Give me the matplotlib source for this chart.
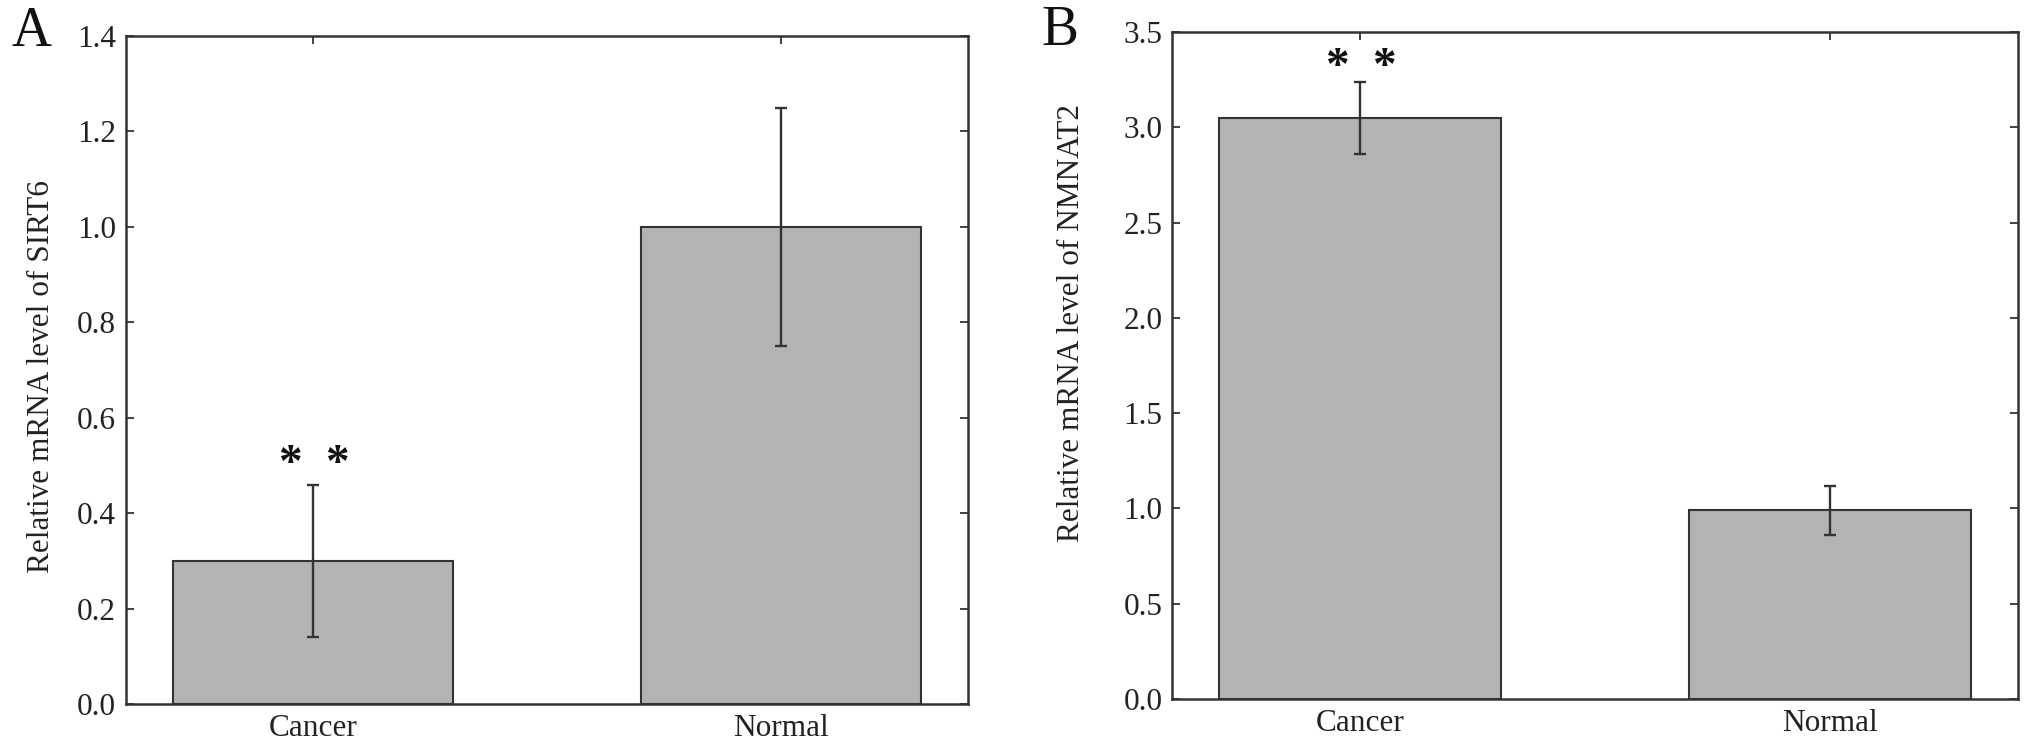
import numpy as np
import matplotlib
matplotlib.use("Agg")
import matplotlib.pyplot as plt

plt.rcParams['font.family'] = ['Liberation Serif', 'DejaVu Serif']

# data
groups = ['Cancer', 'Normal']
sirt6_mean = [0.30, 1.00]
sirt6_err = [0.16, 0.25]
nmnat2_mean = [3.05, 0.99]
nmnat2_err = [0.19, 0.13]

panels = [
    dict(letter='A', mean=sirt6_mean, err=sirt6_err, ylabel='Relative mRNA level of SIRT6',
         ylim=(0, 1.4), yticks=np.arange(0, 1.41, 0.2), fmt='{:.1f}',
         rect=[0.0620, 0.0588, 0.4146, 0.8930], lab=(-0.100, 0.49), star_off=14,
         letter_xy=(32, 32)),
    dict(letter='B', mean=nmnat2_mean, err=nmnat2_err, ylabel='Relative mRNA level of NMNAT2',
         ylim=(0, 3.5), yticks=np.arange(0, 3.51, 0.5), fmt='{:.1f}',
         rect=[0.5771, 0.0655, 0.4165, 0.8917], lab=(-0.119, 0.564), star_off=10,
         letter_xy=(1060, 31)),
]

W, H = 2031, 748
fig = plt.figure(figsize=(W / 100, H / 100), dpi=100)

edge = '#333333'
for p in panels:
    ax = fig.add_axes(p['rect'])
    x = np.arange(len(groups))
    ax.bar(x, p['mean'], width=0.6, color='#b3b3b3', edgecolor=edge, linewidth=1.5, zorder=2)
    ax.errorbar(x, p['mean'], yerr=p['err'], fmt='none', ecolor=edge, elinewidth=1.7,
                capsize=4, capthick=1.7, zorder=3)

    ax.set_xlim(-0.4, 1.4)
    ax.set_ylim(*p['ylim'])
    ax.set_yticks(p['yticks'])
    ax.set_yticklabels([p['fmt'].format(v) for v in p['yticks']])
    ax.set_xticks(x)
    ax.set_xticklabels(groups)

    ax.tick_params(axis='y', direction='in', length=6, width=1.3, right=True,
                   labelsize=22.5, pad=7, colors=edge, labelcolor='#222222')
    ax.tick_params(axis='x', direction='in', length=6, width=1.3, top=True, bottom=False,
                   labelsize=22.5, pad=7, colors=edge, labelcolor='#222222')
    for s in ax.spines.values():
        s.set_linewidth(1.8)
        s.set_color(edge)

    ax.set_ylabel(p['ylabel'], fontsize=22.5, color='#222222', va='center')
    ax.yaxis.set_label_coords(*p['lab'])

    # significance stars above the cancer bar
    top = p['mean'][0] + p['err'][0]
    for dx in (-0.05, 0.05):
        ax.annotate('*', xy=(x[0] + dx, top), xytext=(0, p['star_off']),
                    textcoords='offset points', ha='center', va='center',
                    fontsize=34, fontweight='bold', color='#111111')

    lx, ly = p['letter_xy']
    fig.text(lx / W, 1 - ly / H, p['letter'], fontsize=40, ha='center', va='center',
             color='#111111')

fig.savefig('out.png', dpi=100)
